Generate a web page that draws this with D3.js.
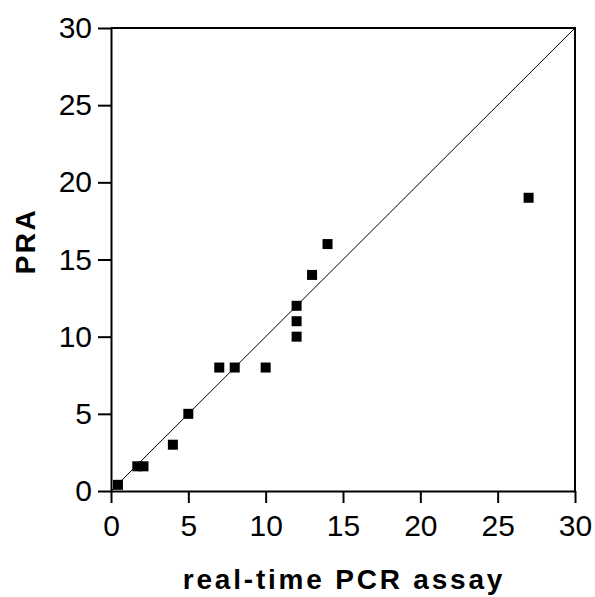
<!DOCTYPE html>
<html>
<head>
<meta charset="utf-8">
<script src="https://cdn.jsdelivr.net/npm/d3@7"></script>
<style>
  body { margin: 0; background: #fff; }
  svg { display: block; font-family: "Liberation Sans", Arial, sans-serif; }
</style>
</head>
<body>
<svg id="chart" width="595" height="597"></svg>
<script>
// data
var pcr = [0.45, 1.7, 2.1, 4, 5, 7, 8, 10, 12, 12, 12, 13, 14, 27];
var pra = [0.4, 1.6, 1.6, 3, 5, 8, 8, 8, 10, 11, 12, 14, 16, 19];
var tickValues = [0, 5, 10, 15, 20, 25, 30];
var xTitle = 'real-time PCR assay';
var yTitle = 'PRA';

(function (d3) {
    'use strict';

    var svg = d3.select('#chart');

    var x = d3.scaleLinear().domain([0, 30]).range([111, 575]);
    var y = d3.scaleLinear().domain([0, 30]).range([491, 28]);

    var points = pcr.map(function (v, i) { return { x: v, y: pra[i] }; });

    // identity line
    svg.append('line')
        .attr('x1', x(0)).attr('y1', y(0))
        .attr('x2', x(30)).attr('y2', y(30))
        .attr('stroke', '#000')
        .attr('stroke-width', 1);

    // frame on top and right
    svg.append('path')
        .attr('d', 'M' + x(0) + ',' + y(30) + 'H' + x(30) + 'V' + y(0))
        .attr('fill', 'none')
        .attr('stroke', '#000')
        .attr('stroke-width', 2);

    var xAxis = svg.append('g')
        .attr('transform', 'translate(0,' + y(0) + ')')
        .call(d3.axisBottom(x).tickValues(tickValues).tickSize(12).tickPadding(12).tickSizeOuter(0));

    var yAxis = svg.append('g')
        .attr('transform', 'translate(' + x(0) + ',0)')
        .call(d3.axisLeft(y).tickValues(tickValues).tickSize(13).tickPadding(6).tickSizeOuter(0));

    [xAxis, yAxis].forEach(function (g) {
        g.select('.domain').attr('stroke-width', 2);
        g.selectAll('.tick line').attr('stroke-width', 2);
        g.selectAll('.tick text')
            .attr('fill', '#000')
            .style('font-family', '"Liberation Sans", Arial, sans-serif')
            .style('font-size', '30px');
    });

    svg.selectAll('.pt')
        .data(points)
        .enter()
        .append('rect')
        .attr('class', 'pt')
        .attr('x', function (d) { return x(d.x) - 5; })
        .attr('y', function (d) { return y(d.y) - 5; })
        .attr('width', 10)
        .attr('height', 10)
        .attr('fill', '#000');

    svg.append('text')
        .attr('x', 344)
        .attr('y', 589)
        .attr('text-anchor', 'middle')
        .style('font-size', '28px')
        .style('font-weight', 'bold')
        .style('letter-spacing', '2.8px')
        .text(xTitle);

    svg.append('text')
        .attr('transform', 'translate(35,241) rotate(-90)')
        .attr('text-anchor', 'middle')
        .style('font-size', '28px')
        .style('font-weight', 'bold')
        .style('letter-spacing', '2.5px')
        .text(yTitle);
})(d3);
</script>
</body>
</html>
